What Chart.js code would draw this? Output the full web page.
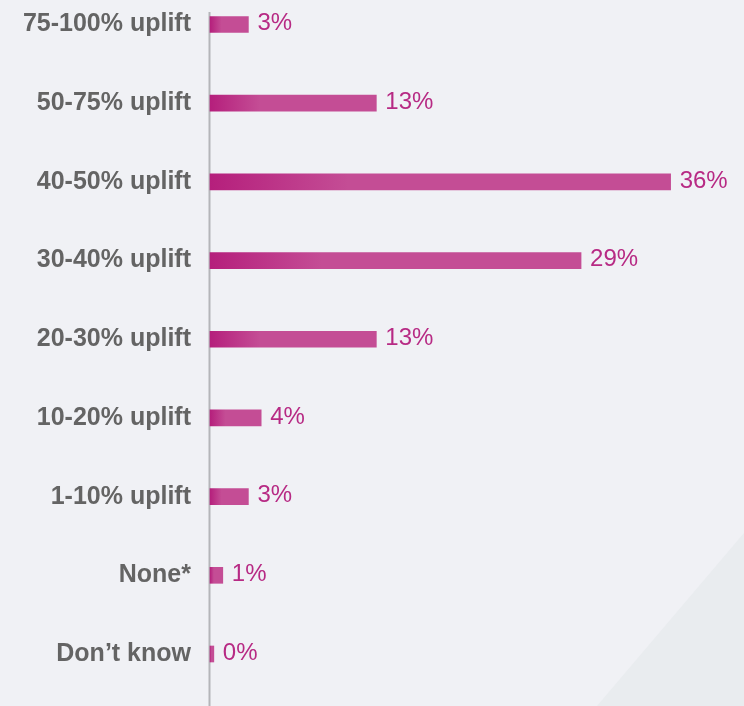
<!DOCTYPE html>
<html>
<head>
<meta charset="utf-8">
<script src="https://cdn.jsdelivr.net/npm/chart.js@4/dist/chart.umd.min.js"></script>
<style>
  html, body { margin: 0; padding: 0; background: #f0f1f5; }
  #wrap { width: 744px; height: 706px; position: relative; }
</style>
</head>
<body>
<div id="wrap"><canvas id="myChart" width="744" height="706"></canvas></div>
<script>
// categories top to bottom
const categories = [
  '75-100% uplift',
  '50-75% uplift',
  '40-50% uplift',
  '30-40% uplift',
  '20-30% uplift',
  '10-20% uplift',
  '1-10% uplift',
  'None*',
  'Don\u2019t know'
];
// share of respondents (%)
const shares = [3, 13, 36, 29, 13, 4, 3, 1, 0.3];
const valueLabels = ['3%', '13%', '36%', '29%', '13%', '4%', '3%', '1%', '0%'];

const barGradient = (context) => {
  const chart = context.chart;
  const { ctx, chartArea, scales } = chart;
  if (!chartArea || !scales.x) return '#c44d95';
  const x0 = scales.x.getPixelForValue(0);
  const x1 = scales.x.getPixelForValue(context.raw);
  const g = ctx.createLinearGradient(x0, 0, Math.max(x1, x0 + 1), 0);
  g.addColorStop(0, '#b51f7c');
  g.addColorStop(0.3, '#c44d95');
  g.addColorStop(1, '#c44d95');
  return g;
};

// background with the pale triangle in the corner
const backdrop = {
  id: 'backdrop',
  beforeDraw(chart) {
    const { ctx, width, height } = chart;
    ctx.save();
    ctx.fillStyle = '#f0f1f5';
    ctx.fillRect(0, 0, width, height);
    ctx.fillStyle = '#e9ecef';
    ctx.beginPath();
    ctx.moveTo(597, height);
    ctx.lineTo(width, 533);
    ctx.lineTo(width, height);
    ctx.closePath();
    ctx.fill();
    ctx.restore();
  }
};

// vertical axis line
const axisLine = {
  id: 'axisLine',
  beforeDatasetsDraw(chart) {
    const { ctx, height, scales } = chart;
    const x = scales.x.getPixelForValue(0) - 0.5;
    ctx.save();
    ctx.strokeStyle = '#b4b5b9';
    ctx.lineWidth = 2;
    ctx.beginPath();
    ctx.moveTo(x, 12);
    ctx.lineTo(x, height);
    ctx.stroke();
    ctx.restore();
  }
};

// value labels after bars
const valueText = {
  id: 'valueText',
  afterDatasetsDraw(chart) {
    const { ctx } = chart;
    const meta = chart.getDatasetMeta(0);
    ctx.save();
    ctx.font = '24px "Liberation Sans", Arial, sans-serif';
    ctx.fillStyle = '#b72a84';
    ctx.textBaseline = 'middle';
    meta.data.forEach((bar, i) => {
      ctx.fillText(valueLabels[i], bar.x + 9, bar.y - 1);
    });
    ctx.restore();
  }
};

const ctx = document.getElementById('myChart').getContext('2d');
const chart = new Chart(ctx, {
  type: 'bar',
  data: {
    labels: categories,
    datasets: [{
      data: shares,
      backgroundColor: barGradient,
      borderWidth: 0,
      barThickness: 16,
      clip: false
    }]
  },
  options: {
    indexAxis: 'y',
    responsive: false,
    animation: false,
    layout: { padding: { top: 24.5, bottom: 52, left: 0, right: 3 } },
    plugins: {
      legend: { display: false },
      tooltip: { enabled: false }
    },
    scales: {
      x: {
        display: false,
        min: 0,
        max: 41.5
      },
      y: {
        offset: false,
        border: { display: false },
        grid: { display: false, drawTicks: false },
        ticks: {
          color: '#646464',
          padding: 19,
          font: { family: '"Liberation Sans", Arial, sans-serif', size: 25, weight: 'bold' }
        },
        afterFit: (scale) => {
          scale.width = 210;
          scale.paddingTop = 0;
          scale.paddingBottom = 0;
        }
      }
    }
  },
  plugins: [backdrop, axisLine, valueText]
});
</script>
</body>
</html>
